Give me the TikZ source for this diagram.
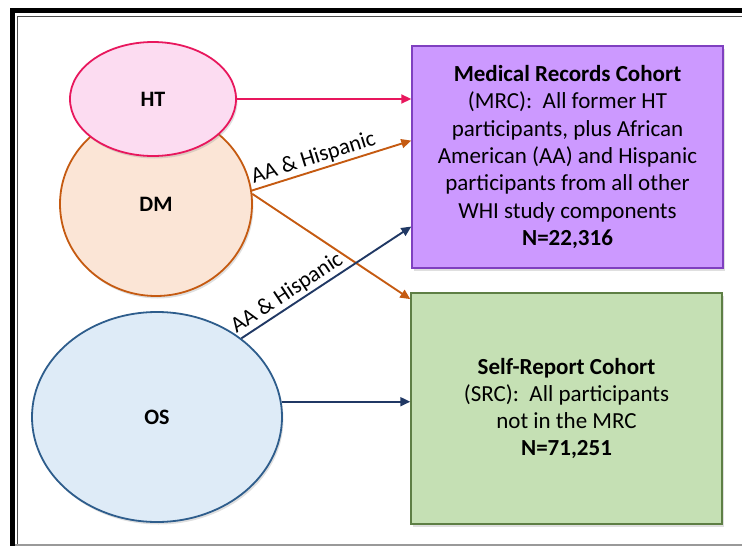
\documentclass[tikz,border=0pt]{standalone}
\usepackage{fontspec}
\setmainfont{Carlito}
\usetikzlibrary{shapes.geometric, arrows.meta, shadows}
\definecolor{htfill}{HTML}{FCDCF1}
\definecolor{htline}{HTML}{E8175D}
\definecolor{dmfill}{HTML}{FBE5D6}
\definecolor{dmline}{HTML}{C55A11}
\definecolor{osfill}{HTML}{DEEBF7}
\definecolor{osline}{HTML}{2E5D8C}
\definecolor{mrcfill}{HTML}{CC99FF}
\definecolor{mrcline}{HTML}{7F40C0}
\definecolor{srcfill}{HTML}{C5E0B4}
\definecolor{srcline}{HTML}{5E7F45}
\definecolor{navyarrow}{HTML}{203864}
\tikzset{
  study/.style={ellipse, draw, line width=1.8pt, font=\fontsize{22}{24}\selectfont\bfseries,
    drop shadow={opacity=0.25, shadow xshift=1.5pt, shadow yshift=-2.5pt}},
  cohort/.style={draw, line width=1.4pt, align=center, font=\fontsize{23}{27.3}\selectfont,
    drop shadow={opacity=0.25, shadow xshift=1.5pt, shadow yshift=-2.5pt}},
  link/.style={line width=1.9pt, -{Triangle[length=10pt, width=9pt]}},
  tag/.style={sloped, above, inner sep=2pt, font=\fontsize{22.5}{24}\selectfont, text=black}
}
\begin{document}
\begin{tikzpicture}[x=1pt, y=-1pt]
    \useasboundingbox (0,0) rectangle (742,546);
    % frame
    \draw[line width=5pt] (12,548) |- (750,10.5);
    \draw[line width=0.9pt, black!70] (17.5,545) |- (750,16);
    \draw[line width=1.5pt, black!40] (15,545) -- (742,545);
    % study components
    \node[study, fill=dmfill, draw=dmline, minimum width=192pt, minimum height=184pt] (DM) at (156,204) {DM};
    \node[study, fill=htfill, draw=htline, minimum width=166pt, minimum height=114pt] (HT) at (153,99) {HT};
    \node[study, fill=osfill, draw=osline, minimum width=250pt, minimum height=210pt] (OS) at (157,417) {OS};
    % cohorts
    \node[cohort, fill=mrcfill, draw=mrcline, minimum width=311pt, minimum height=222pt] (MRC) at (567.5,157)
        {\textbf{Medical Records Cohort}\\(MRC):~ All former HT\\participants, plus African\\American (AA) and Hispanic\\participants from all other\\WHI study components\\\textbf{N=22,316}};
    \node[cohort, fill=srcfill, draw=srcline, minimum width=311pt, minimum height=231pt] (SRC) at (566.5,408.5)
        {\textbf{Self-Report Cohort}\\(SRC):~ All participants\\not in the MRC\\\textbf{N=71,251}};
    % arrows
    \draw[link, htline] (HT.east) -- (HT.east -| MRC.west);
    \draw[link, dmline] (DM.8) -- node[tag, pos=0.41]{AA \& Hispanic} (MRC.174);
    \draw[link, dmline] (DM.6) -- (SRC.145);
    \draw[link, navyarrow] (OS.43) -- node[tag, pos=0.31]{AA \& Hispanic} (MRC.204);
    \draw[link, navyarrow] (OS.7) -- (OS.7 -| SRC.west);
\end{tikzpicture}
\end{document}
